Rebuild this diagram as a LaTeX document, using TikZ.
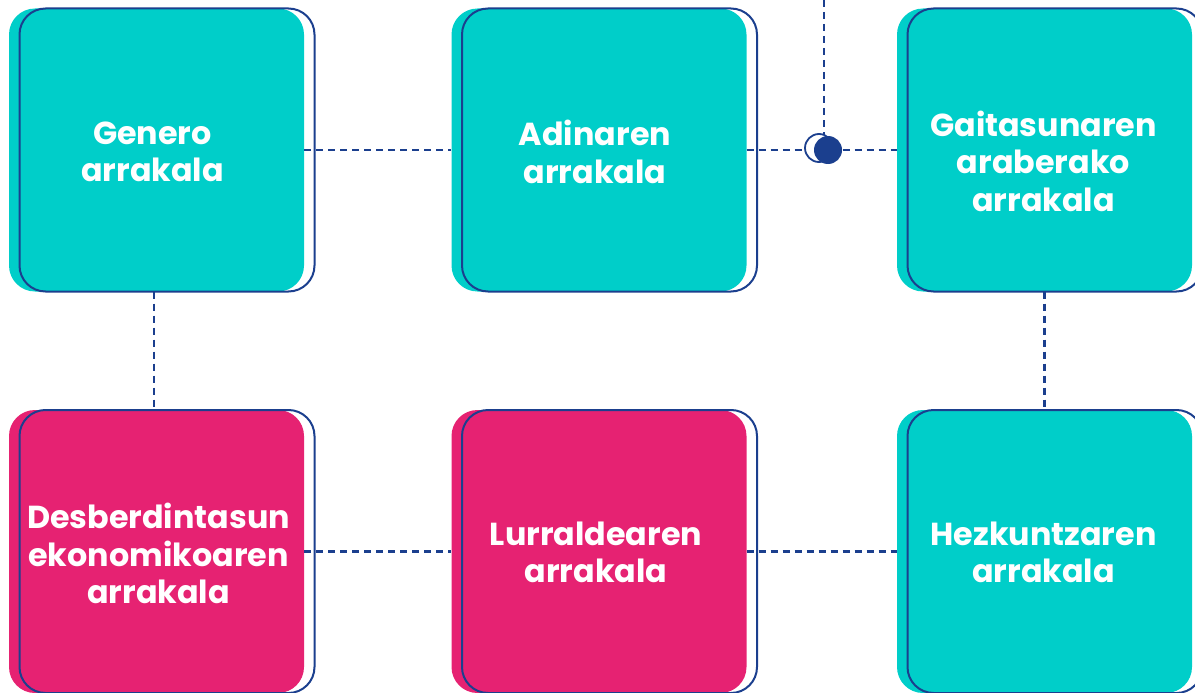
\documentclass[tikz,border=0pt]{standalone}
\usepackage{fontspec}
\setmainfont{Poppins}[BoldFont=* Bold]
\usetikzlibrary{positioning}
\definecolor{turkesa}{HTML}{00CEC9}
\definecolor{arrosa}{HTML}{E62272}
\definecolor{urdina}{HTML}{1B3F8E}
\tikzset{
  txartela/.style={rounded corners=26pt, minimum width=295pt, minimum height=283pt, inner sep=0pt},
  betea/.style={txartela, fill=#1},
  ertza/.style={txartela, draw=urdina, line width=2pt},
  lotura/.style={draw=urdina, dash pattern=on 7pt off 5pt, line width=2.2pt},
  idazkia/.style={text=white, font=\bfseries\fontsize{31.8}{37.5}\selectfont, align=center}
}
\begin{document}
\begin{tikzpicture}[x=1pt, y=-1pt]
\useasboundingbox (0,0) rectangle (1195,693);
\foreach \izena/\x/\y/\kol/\dx/\dy/\testua in {
  genero/156.5/150/turkesa/-4/2/{Genero\\arrakala},
  adina/599/150/turkesa/-4/2/{Adinaren\\arrakala},
  gaitasuna/1044.5/150/turkesa/-1/11/{Gaitasunaren\\araberako\\arrakala},
  ekonomia/156.5/551.5/arrosa/2/2/{Desberdintasun\\ekonomikoaren\\arrakala},
  lurraldea/599/551.5/arrosa/-3/1/{Lurraldearen\\arrakala},
  hezkuntza/1044.5/551.5/turkesa/-1/1/{Hezkuntzaren\\arrakala}}
{
  \node[betea=\kol] (\izena) at (\x,\y) {};
  \node[ertza] (\izena-e) at ([xshift=10.5pt]\izena.center) {};
  \node[idazkia] (\izena-t) at ([xshift=\dx pt, yshift=-\dy pt]\izena.center) {\testua};
}
\coordinate (goia) at (824,0);
\draw[lotura] (genero) -- (adina);
\draw[lotura] (adina) -- (gaitasuna);
\draw[lotura] ([xshift=-2.5pt]genero.south) -- ([xshift=-2.5pt]ekonomia.north);
\draw[lotura] (gaitasuna) -- (hezkuntza);
\draw[lotura] (ekonomia) -- (lurraldea);
\draw[lotura] (lurraldea) -- (hezkuntza);
\draw[lotura] (goia) -- (goia |- adina);
\node[circle, draw=urdina, fill=white, line width=1.8pt, minimum size=28pt, inner sep=0pt] (eraztuna) at (819,148) {};
\node[circle, fill=urdina, minimum size=28pt, inner sep=0pt] (puntua) at (828,150) {};
\end{tikzpicture}
\end{document}
